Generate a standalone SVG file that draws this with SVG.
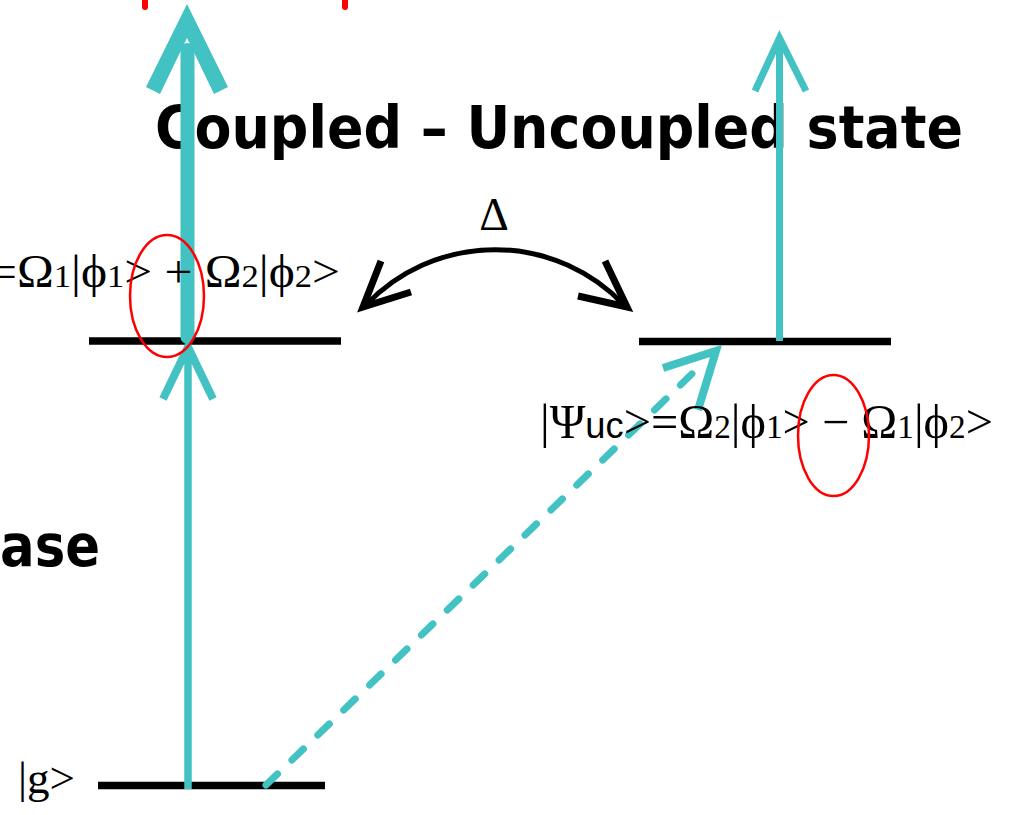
<svg xmlns="http://www.w3.org/2000/svg" width="1009" height="815" viewBox="0 0 1009 815">
<style>
.bold{font-family:"Comic Sans MS","DejaVu Sans",sans-serif;font-weight:bold;fill:#000}
.serif{font-family:"Liberation Serif","Times New Roman",serif;fill:#000}
.lvl{stroke:#000;stroke-width:7.5;fill:none}
.cy{stroke:#43C2C4;fill:none}
.red{stroke:#FF0000;fill:none;stroke-width:2.5}
</style>
<rect width="1009" height="815" fill="#fff"/>
<g id="red-marks">
<line x1="145" y1="-2" x2="145" y2="7" stroke="#FF0000" stroke-width="6" stroke-linecap="round"/>
<line x1="345" y1="-2" x2="345" y2="7" stroke="#FF0000" stroke-width="6" stroke-linecap="round"/>
</g>
<g id="title"><text class="bold" x="155" y="148" font-size="58" textLength="808" lengthAdjust="spacingAndGlyphs">Coupled – Uncoupled state</text></g>
<g id="phase-label"><text class="bold" x="0" y="566" font-size="58" textLength="100" lengthAdjust="spacingAndGlyphs">ase</text></g>
<g id="level-coupled"><line class="lvl" x1="89" y1="341" x2="341" y2="341"/></g>
<g id="level-uncoupled"><line class="lvl" x1="639" y1="341.5" x2="891" y2="341.5"/></g>
<g id="level-g"><line class="lvl" x1="98" y1="785.5" x2="325" y2="785.5"/></g>
<g id="connectors">
<line class="cy" x1="187.5" y1="337" x2="187.5" y2="50" stroke-width="14" stroke-linecap="round"/>
<polygon points="187,4 228,87 214,94 187,38 160,94 146,87" fill="#43C2C4"/>
<line class="cy" x1="188" y1="789" x2="188" y2="348" stroke-width="7.5"/>
<polyline class="cy" points="163,399 188,347 213,399" stroke-width="8" stroke-miterlimit="10"/>
<line class="cy" x1="779.5" y1="341" x2="779.5" y2="40" stroke-width="7"/>
<polyline class="cy" points="755,91 779.5,38 806,91" stroke-width="7" stroke-miterlimit="10"/>
<line class="cy" x1="266" y1="785" x2="698" y2="368" stroke-width="7" stroke-dasharray="16 20" stroke-linecap="round"/>
<polyline class="cy" points="663,368 716,351 698,410" stroke-width="8" stroke-miterlimit="10"/>
<path d="M 366 305 A 178 178 0 0 1 624 305" fill="none" stroke="#000" stroke-width="5"/>
<polyline points="381,261 363,307 411,292" fill="none" stroke="#000" stroke-width="7" stroke-miterlimit="10"/>
<polyline points="605,261 627,307 578,296" fill="none" stroke="#000" stroke-width="7" stroke-miterlimit="10"/>
</g>
<g id="labels">
<text class="serif" x="494" y="230" font-size="46" text-anchor="middle">Δ</text>
<text class="serif" x="-11" y="287" font-size="46" textLength="351" lengthAdjust="spacingAndGlyphs">=Ω<tspan font-size="32">1</tspan>|ϕ<tspan font-size="32">1</tspan>&gt; + Ω<tspan font-size="32">2</tspan>|ϕ<tspan font-size="32">2</tspan>&gt;</text>
<text class="serif" x="540" y="438" font-size="48" textLength="453" lengthAdjust="spacingAndGlyphs">|Ψ<tspan font-family="Liberation Sans,Arial,sans-serif" font-size="36">uc</tspan>&gt;=Ω<tspan font-size="33">2</tspan>|ϕ<tspan font-size="33">1</tspan>&gt; − Ω<tspan font-size="33">1</tspan>|ϕ<tspan font-size="33">2</tspan>&gt;</text>
<text class="serif" x="18" y="793" font-size="44" textLength="57" lengthAdjust="spacingAndGlyphs">|g&gt;</text>
</g>
<g id="highlights">
<ellipse class="red" cx="167" cy="296" rx="37" ry="61"/>
<ellipse class="red" cx="833.5" cy="435.5" rx="35.5" ry="60.5"/>
</g>
</svg>
